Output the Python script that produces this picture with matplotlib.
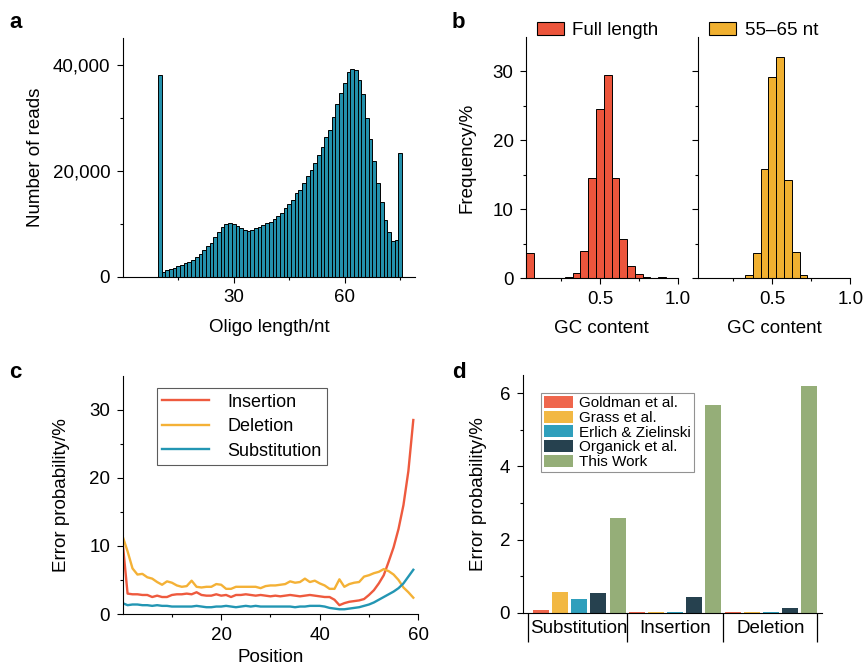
import matplotlib
matplotlib.use("Agg")
import matplotlib.pyplot as plt
from matplotlib.patches import Patch
from matplotlib.ticker import FixedLocator, FuncFormatter

plt.rcParams["font.family"] = ["Liberation Sans", "DejaVu Sans"]
plt.rcParams["axes.linewidth"] = 0.8

# panel a: read length distribution
oligo_lengths = list(range(10, 76))
read_counts = [
    38000, 800, 1200, 1500, 1700, 2000, 2300, 2500, 2800, 3200,
    3700, 4300, 5000, 5700, 6400, 7400, 8500, 9300, 9900, 10200,
    10000, 9600, 9200, 8800, 8700, 8800, 9100, 9400, 9800, 10100,
    10400, 10900, 11500, 12100, 13000, 13700, 14500, 15700, 16400, 17700,
    18900, 20200, 21500, 23000, 24500, 26300, 27700, 30200, 32500, 34700,
    36600, 38600, 39200, 39000, 37000, 34500, 30000, 25900, 21800, 17700,
    14000, 10600, 8500, 6700, 6900, 23400,
]

# panel b: GC content histograms (%)
gc_bins = [0.05, 0.10, 0.15, 0.20, 0.25, 0.30, 0.35, 0.40, 0.45, 0.50,
           0.55, 0.60, 0.65, 0.70, 0.75, 0.80, 0.85, 0.90, 0.95]
gc_full_length = [3.7, 0.0, 0.0, 0.02, 0.05, 0.15, 0.7, 3.9, 14.6, 24.5,
                  29.4, 14.5, 5.7, 1.8, 0.6, 0.2, 0.1, 0.2, 0.05]
gc_55_65 = [0.0, 0.0, 0.0, 0.0, 0.02, 0.05, 0.45, 3.6, 15.9, 29.1,
            32.1, 14.3, 3.8, 0.45, 0.05, 0.05, 0.0, 0.0, 0.0]

# panel c: error probability by position (%)
positions = list(range(0, 60))
insertion = [
    10.5, 3.0, 2.9, 2.9, 2.8, 2.8, 2.5, 2.7, 2.5, 2.5,
    2.8, 2.9, 2.9, 3.0, 2.9, 3.2, 2.8, 2.7, 2.7, 2.9,
    2.7, 2.8, 2.5, 2.8, 2.8, 2.9, 2.8, 2.7, 2.8, 2.7,
    2.6, 2.7, 2.6, 2.7, 2.8, 2.7, 2.6, 2.7, 2.8, 2.7,
    2.6, 2.5, 2.5, 2.1, 1.3, 1.6, 1.8, 1.9, 2.0, 2.2,
    2.8, 3.5, 4.5, 5.7, 7.7, 9.8, 12.5, 16.0, 21.0, 28.5,
]
deletion = [
    11.4, 9.2, 6.7, 5.8, 5.9, 5.4, 5.2, 4.7, 4.3, 4.8,
    4.6, 4.2, 4.0, 4.1, 4.9, 4.0, 3.9, 4.0, 4.0, 4.4,
    4.3, 3.7, 3.7, 4.0, 4.0, 4.0, 4.0, 4.0, 3.8, 4.1,
    4.2, 4.2, 4.3, 4.4, 4.8, 4.6, 4.7, 5.2, 4.7, 4.9,
    4.5, 4.2, 3.7, 3.7, 5.1, 4.0, 4.4, 4.6, 4.7, 5.5,
    5.7, 6.0, 6.2, 6.6, 6.3, 5.8, 5.0, 3.9, 3.2, 2.4,
]
substitution = [
    1.6, 1.3, 1.4, 1.4, 1.3, 1.3, 1.2, 1.3, 1.2, 1.2,
    1.1, 1.1, 1.1, 1.1, 1.1, 1.2, 1.1, 1.0, 1.0, 1.1,
    1.1, 1.2, 1.1, 1.0, 1.1, 1.2, 1.1, 1.2, 1.1, 1.1,
    1.1, 1.1, 1.1, 1.1, 1.1, 1.0, 1.1, 1.1, 1.2, 1.2,
    1.2, 1.1, 0.9, 0.8, 0.7, 0.7, 0.8, 0.9, 1.0, 1.2,
    1.4, 1.7, 2.1, 2.5, 2.9, 3.3, 3.8, 4.5, 5.5, 6.5,
]

# panel d: error rates of different studies (%)
error_types = ["Substitution", "Insertion", "Deletion"]
studies = ["Goldman et al.", "Grass et al.", "Erlich & Zielinski",
           "Organick et al.", "This Work"]
goldman = [0.07, 0.02, 0.02]
grass = [0.56, 0.02, 0.02]
erlich = [0.37, 0.02, 0.02]
organick = [0.54, 0.43, 0.13]
this_work = [2.59, 5.69, 6.20]

TEAL = "#2390AB"
RED = "#EC553C"
YELLOW = "#F0B030"
STUDY_COLORS = ["#EF664C", "#F2B843", "#2F9FBC", "#26414F", "#95AE78"]
FS = 13.5


def _style(ax):
    for side in ("top", "right"):
        ax.spines[side].set_visible(False)
    ax.tick_params(which="major", direction="out", length=4, width=0.8, labelsize=FS, pad=5)
    ax.tick_params(which="minor", direction="out", length=2.5, width=0.8)


def _panel_label(fig, x, y, text):
    fig.text(x / 865, 1 - y / 671, text, fontsize=16, fontweight="bold", va="center", ha="left")


def panel_a(fig):
    ax = fig.add_axes([0.1418, 0.5876, 0.338, 0.3557])
    ax.bar(oligo_lengths, read_counts, width=1.0, color=TEAL, edgecolor="black", linewidth=0.7)
    ax.set_xlim(0, 79)
    ax.set_ylim(0, 45000)
    ax.set_xticks([30, 60])
    ax.xaxis.set_minor_locator(FixedLocator([15, 45, 75]))
    ax.set_yticks([0, 20000, 40000])
    ax.yaxis.set_minor_locator(FixedLocator([10000, 30000]))
    ax.yaxis.set_major_formatter(FuncFormatter(lambda v, p: "{:,}".format(int(v))))
    ax.set_xlabel("Oligo length/nt", fontsize=FS, labelpad=9)
    ax.set_ylabel("Number of reads", fontsize=FS, labelpad=6)
    _style(ax)


def panel_b(fig):
    ax1 = fig.add_axes([0.6081, 0.5852, 0.1754, 0.360])
    ax2 = fig.add_axes([0.8073, 0.5852, 0.1758, 0.360])
    for ax, vals, color, label in ((ax1, gc_full_length, RED, "Full length"),
                                   (ax2, gc_55_65, YELLOW, "55\u201365 nt")):
        ax.bar(gc_bins, vals, width=0.05, color=color, edgecolor="black", linewidth=0.7)
        ax.set_xlim(0.025, 1.0)
        ax.set_ylim(0, 35)
        ax.set_xticks([0.5, 1.0])
        ax.set_xticklabels(["0.5", "1.0"])
        ax.xaxis.set_minor_locator(FixedLocator([0.25, 0.75]))
        ax.set_yticks([0, 10, 20, 30])
        ax.yaxis.set_minor_locator(FixedLocator([5, 15, 25]))
        ax.set_xlabel("GC content", fontsize=FS, labelpad=9)
        _style(ax)
        handle = Patch(facecolor=color, edgecolor="black", linewidth=0.8)
        ax.legend([handle], [label], loc="lower left", bbox_to_anchor=(0.07, 0.99),
                  frameon=False, fontsize=FS, handlelength=1.45, handleheight=0.7,
                  handletextpad=0.45, borderpad=0, borderaxespad=0)
    ax1.set_ylabel("Frequency/%", fontsize=FS, labelpad=12)
    ax2.tick_params(axis="y", labelleft=False)


def panel_c(fig):
    ax = fig.add_axes([0.1418, 0.0849, 0.3417, 0.3551])
    ax.plot(positions, insertion, color="#EE5A3E", lw=1.7, label="Insertion")
    ax.plot(positions, deletion, color="#F4B136", lw=1.7, label="Deletion")
    ax.plot(positions, substitution, color="#2396B3", lw=1.7, label="Substitution")
    ax.set_xlim(0, 60)
    ax.set_ylim(0, 35)
    ax.set_xticks([20, 40, 60])
    ax.xaxis.set_minor_locator(FixedLocator([10, 30, 50]))
    ax.set_yticks([0, 10, 20, 30])
    ax.yaxis.set_minor_locator(FixedLocator([5, 15, 25]))
    ax.set_xlabel("Position", fontsize=FS, labelpad=4)
    ax.set_ylabel("Error probability/%", fontsize=FS, labelpad=14)
    _style(ax)
    leg = ax.legend(loc="upper left", bbox_to_anchor=(0.115, 0.948), borderaxespad=0,
                    fontsize=13, handlelength=2.6, labelspacing=0.42, fancybox=False,
                    borderpad=0.3, handletextpad=1.0)
    leg.get_frame().set_edgecolor("#333333")
    leg.get_frame().set_linewidth(0.8)


def panel_d(fig):
    ax = fig.add_axes([0.6043, 0.0869, 0.3457, 0.3542])
    series = [goldman, grass, erlich, organick, this_work]
    for j, (vals, name, color) in enumerate(zip(series, studies, STUDY_COLORS)):
        xs = [g * 5 + j for g in range(len(error_types))]
        ax.bar(xs, vals, width=0.84, color=color, label=name)
    ax.set_xlim(-0.95, 14.65)
    ax.set_ylim(0, 6.5)
    ax.set_yticks([0, 2, 4, 6])
    ax.yaxis.set_minor_locator(FixedLocator([1, 3, 5]))
    ax.set_ylabel("Error probability/%", fontsize=FS, labelpad=9)
    _style(ax)
    ax.set_xticks([-0.65, 4.5, 9.5, 14.4])
    ax.set_xticklabels([])
    ax.tick_params(axis="x", which="major", length=21, width=0.9)
    ax.xaxis.set_minor_locator(FixedLocator([2, 7, 12]))
    ax.set_xticks([2, 7, 12], minor=True)
    ax.set_xticklabels(error_types, minor=True, fontsize=FS)
    ax.tick_params(axis="x", which="minor", length=0, pad=5)
    leg = ax.legend(loc="upper left", bbox_to_anchor=(0.06, 0.925), borderaxespad=0,
                    fontsize=11, handlelength=1.9, handleheight=0.85, labelspacing=0.02,
                    fancybox=False, borderpad=0.2, handletextpad=0.4)
    leg.get_frame().set_edgecolor("#777777")
    leg.get_frame().set_linewidth(0.8)


def main():
    fig = plt.figure(figsize=(8.65, 6.71), dpi=100)
    panel_a(fig)
    panel_b(fig)
    panel_c(fig)
    panel_d(fig)
    _panel_label(fig, 9, 22, "a")
    _panel_label(fig, 452, 22, "b")
    _panel_label(fig, 9, 373, "c")
    _panel_label(fig, 452, 373, "d")
    fig.savefig("out.png", dpi=100)
    plt.close(fig)


if __name__ == "__main__":
    main()
